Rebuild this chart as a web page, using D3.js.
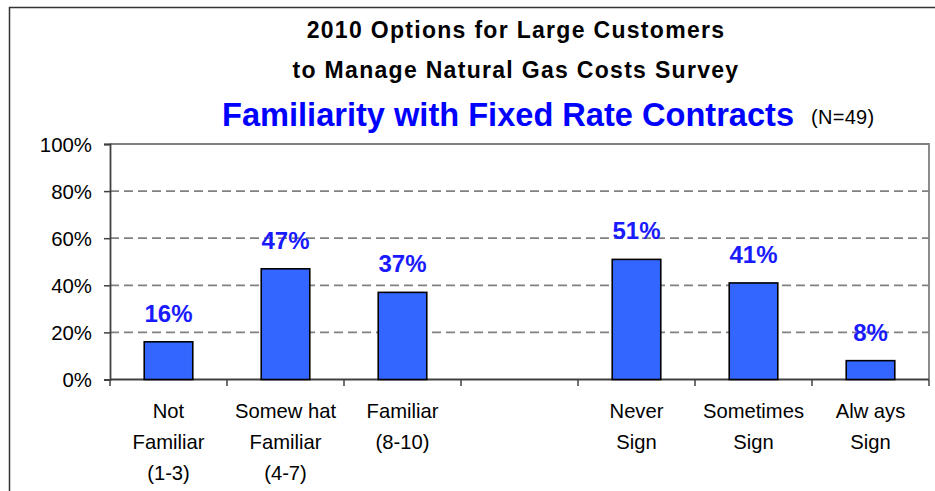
<!DOCTYPE html>
<html>
<head>
<meta charset="utf-8">
<script src="https://cdn.jsdelivr.net/npm/d3@7"></script>
<style>
  html, body { margin: 0; padding: 0; background: #fff; }
  svg { display: block; font-family: Arial, "Liberation Sans", sans-serif; }
</style>
</head>
<body>
<svg id="chart" width="935" height="491"></svg>
<script>
// Survey response categories; the empty entry is a spacer between the two question groups
const categoryLabels = [
  ["Not", "Familiar", "(1-3)"],
  ["Somew hat", "Familiar", "(4-7)"],
  ["Familiar", "(8-10)"],
  [],
  ["Never", "Sign"],
  ["Sometimes", "Sign"],
  ["Alw ays", "Sign"]
];
const percentValues = [16, 47, 37, null, 51, 41, 8];
const yTickValues = [0, 20, 40, 60, 80, 100];
const titleLines = ["2010 Options for Large Customers", "to Manage Natural Gas Costs Survey"];
const subtitle = "Familiarity with Fixed Rate Contracts";
const sampleNote = "(N=49)";

const svg = d3.select("#chart");
const W = 935, H = 491;

svg.append("rect").attr("width", W).attr("height", H).attr("fill", "#fff");

// Outer frame around the slide area
svg.append("rect")
  .attr("x", 9.5).attr("y", 7.5)
  .attr("width", 1000).attr("height", 1000)
  .attr("fill", "none").attr("stroke", "#333").attr("stroke-width", 1.5);

// Titles
svg.selectAll("text.title")
  .data(titleLines)
  .join("text")
  .attr("class", "title")
  .attr("x", 516)
  .attr("y", (d, i) => 37.5 + i * 40.3)
  .attr("text-anchor", "middle")
  .attr("font-size", 23)
  .attr("font-weight", "bold")
  .attr("letter-spacing", "1.3px")
  .attr("fill", "#000")
  .text(d => d);

svg.append("text")
  .attr("x", 222).attr("y", 126)
  .attr("font-size", 32.6).attr("font-weight", "bold")
  .attr("fill", "#0000ff")
  .text(subtitle);

svg.append("text")
  .attr("x", 811).attr("y", 123.5)
  .attr("font-size", 20)
  .attr("letter-spacing", "0.3px")
  .attr("fill", "#000")
  .text(sampleNote);

// Plot area
const plot = { left: 110, right: 929, top: 144, bottom: 379.5 };

const x = d3.scaleBand()
  .domain(d3.range(categoryLabels.length))
  .range([plot.left, plot.right])
  .padding(0);

const y = d3.scaleLinear()
  .domain([0, 100])
  .range([plot.bottom, plot.top]);

// Dashed gridlines
svg.append("g")
  .selectAll("line")
  .data(yTickValues.filter(v => v > 0 && v < 100))
  .join("line")
  .attr("x1", plot.left).attr("x2", plot.right)
  .attr("y1", d => y(d)).attr("y2", d => y(d))
  .attr("stroke", "#808080").attr("stroke-width", 1.8)
  .attr("stroke-dasharray", "9,5");

// Plot area border (top and right)
svg.append("path")
  .attr("d", `M${plot.left},${y(100)}H${plot.right}V${plot.bottom}`)
  .attr("fill", "none").attr("stroke", "#808080").attr("stroke-width", 1.8);

// Y axis
const yAxis = svg.append("g")
  .attr("transform", `translate(${plot.left},0)`)
  .call(d3.axisLeft(y).tickValues(yTickValues).tickFormat(d => d + "%").tickSize(6).tickPadding(12));
yAxis.select(".domain").attr("stroke", "#404040").attr("stroke-width", 1.8);
yAxis.selectAll(".tick line").attr("stroke", "#404040").attr("stroke-width", 1.5);
yAxis.selectAll(".tick text")
  .attr("font-size", 20.4).attr("font-family", "Arial, 'Liberation Sans', sans-serif")
  .attr("fill", "#000").attr("dy", "0.35em");

// X axis baseline with ticks on category boundaries
const boundaries = x.domain().map(i => x(i)).concat([plot.right]);
const xAxis = svg.append("g");
xAxis.append("line")
  .attr("x1", plot.left).attr("x2", plot.right)
  .attr("y1", y(0)).attr("y2", y(0))
  .attr("stroke", "#404040").attr("stroke-width", 2);
xAxis.selectAll("line.tick")
  .data(boundaries)
  .join("line")
  .attr("class", "tick")
  .attr("x1", d => d).attr("x2", d => d)
  .attr("y1", y(0)).attr("y2", y(0) + 6.5)
  .attr("stroke", "#404040").attr("stroke-width", 1.5);

// Category labels
const labelGroups = svg.append("g")
  .selectAll("text")
  .data(categoryLabels)
  .join("text")
  .attr("text-anchor", "middle")
  .attr("font-size", 20.2)
  .attr("fill", "#000");
labelGroups.each(function(lines, i) {
  const cx = x(i) + x.bandwidth() / 2;
  d3.select(this).selectAll("tspan")
    .data(lines)
    .join("tspan")
    .attr("x", cx)
    .attr("y", (d, j) => 417.5 + j * 31)
    .text(d => d);
});

// Bars
const barRatio = 0.415;
const barData = percentValues
  .map((v, i) => ({ i, v }))
  .filter(d => d.v !== null);
const barW = x.bandwidth() * barRatio;

svg.append("g")
  .selectAll("rect")
  .data(barData)
  .join("rect")
  .attr("x", d => x(d.i) + (x.bandwidth() - barW) / 2)
  .attr("y", d => y(d.v))
  .attr("width", barW)
  .attr("height", d => y(0) - y(d.v))
  .attr("fill", "#3366ff")
  .attr("stroke", "#000").attr("stroke-width", 1.6);

// Value labels
svg.append("g")
  .selectAll("text")
  .data(barData)
  .join("text")
  .attr("x", d => x(d.i) + x.bandwidth() / 2)
  .attr("y", d => y(d.v) - 20)
  .attr("text-anchor", "middle")
  .attr("font-size", 24).attr("font-weight", "bold")
  .attr("fill", "#1a1aff")
  .text(d => d.v + "%");
</script>
</body>
</html>
